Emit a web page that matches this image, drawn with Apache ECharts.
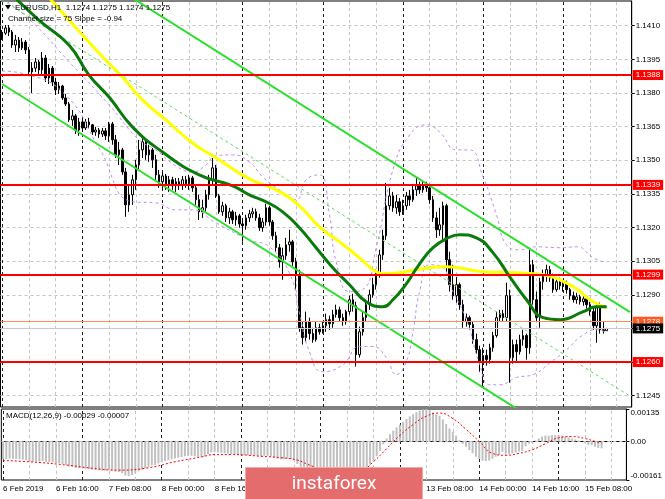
<!DOCTYPE html>
<html><head><meta charset="utf-8">
<script src="https://cdn.jsdelivr.net/npm/echarts@6/dist/echarts.min.js"></script>
<style>html,body{margin:0;padding:0;background:#fff}#c{width:665px;height:499px}</style>
</head><body><div id="c"></div>
<script>
// ---------- categories & tick labels ----------
const days = ['6 Feb','7 Feb','8 Feb','11 Feb','12 Feb','13 Feb','14 Feb','15 Feb'];
const TOTAL_SLOTS = 189; // 182 bars + right shift
const xTickLabels = ['6 Feb 2019','6 Feb 16:00','7 Feb 08:00','8 Feb 00:00','8 Feb 16:00','11 Feb 08:00','12 Feb 00:00','12 Feb 16:00','13 Feb 08:00','14 Feb 00:00','14 Feb 16:00','15 Feb 08:00'];
const priceTicks = [1.1245,1.1260,1.1275,1.1290,1.1305,1.1320,1.1335,1.1350,1.1365,1.1380,1.1395,1.1410];
const redLevels = [1.1388,1.1339,1.1299,1.1260];
const orangeLevel = 1.1278;
const lastPrice = 1.1275;
const macdTicks = [-0.00161,0,0.00135];

// ---------- OHLC (EURUSD H1) ----------
const opens = [
1.14045,1.14067,1.14090,1.14072,1.14014,1.14036,1.14001,1.14027,1.13992,1.13894,
1.13911,1.13938,1.13903,1.13956,1.13867,1.13911,1.13849,1.13814,1.13831,1.13778,
1.13751,1.13680,1.13698,1.13635,1.13671,1.13644,1.13671,1.13658,1.13626,1.13635,
1.13617,1.13631,1.13609,1.13662,1.13591,1.13524,1.13546,1.13448,1.13301,1.13346,
1.13413,1.13479,1.13546,1.13582,1.13524,1.13546,1.13502,1.13435,1.13404,1.13430,
1.13390,1.13413,1.13386,1.13404,1.13390,1.13413,1.13395,1.13421,1.13377,1.13324,
1.13270,1.13288,1.13346,1.13413,1.13466,1.13341,1.13270,1.13297,1.13243,1.13270,
1.13234,1.13252,1.13216,1.13208,1.13243,1.13261,1.13270,1.13243,1.13199,1.13225,
1.13288,1.13225,1.13163,1.13110,1.13047,1.13074,1.13123,1.13136,1.13047,1.12989,
1.12753,1.12709,1.12780,1.12727,1.12700,1.12753,1.12735,1.12762,1.12789,1.12771,
1.12811,1.12833,1.12798,1.12780,1.12825,1.12878,1.12851,1.12633,1.12735,1.12798,
1.12856,1.12900,1.12945,1.12994,1.13078,1.13163,1.13297,1.13341,1.13288,1.13315,
1.13270,1.13297,1.13341,1.13324,1.13368,1.13386,1.13368,1.13390,1.13377,1.13324,
1.13243,1.13190,1.13212,1.13297,1.13056,1.12945,1.12896,1.12945,1.12856,1.12780,
1.12798,1.12767,1.12700,1.12655,1.12602,1.12629,1.12611,1.12664,1.12718,1.12798,
1.12816,1.12798,1.12896,1.12620,1.12678,1.12646,1.12700,1.12718,1.12664,1.13034,
1.12878,1.12798,1.12958,1.12985,1.13012,1.12976,1.12923,1.12958,1.12940,1.12949,
1.12923,1.12896,1.12878,1.12891,1.12869,1.12882,1.12856,1.12825,1.12762,1.12842,
1.12744,1.12740];
const highs = [
1.14081,1.14103,1.14103,1.14081,1.14059,1.14050,1.14045,1.14036,1.14005,1.13938,
1.13956,1.13947,1.13983,1.13969,1.13929,1.13920,1.13867,1.13849,1.13836,1.13796,
1.13760,1.13724,1.13706,1.13689,1.13689,1.13684,1.13689,1.13662,1.13649,1.13644,
1.13644,1.13644,1.13671,1.13671,1.13613,1.13582,1.13555,1.13466,1.13390,1.13435,
1.13502,1.13591,1.13600,1.13591,1.13569,1.13555,1.13524,1.13457,1.13448,1.13439,
1.13430,1.13426,1.13421,1.13421,1.13430,1.13430,1.13435,1.13430,1.13390,1.13346,
1.13324,1.13368,1.13435,1.13510,1.13479,1.13350,1.13315,1.13306,1.13288,1.13279,
1.13270,1.13261,1.13243,1.13257,1.13279,1.13288,1.13284,1.13261,1.13243,1.13306,
1.13297,1.13234,1.13181,1.13127,1.13110,1.13154,1.13190,1.13145,1.13065,1.13012,
1.12780,1.12825,1.12798,1.12753,1.12780,1.12771,1.12780,1.12816,1.12807,1.12833,
1.12856,1.12847,1.12816,1.12833,1.12896,1.12905,1.12869,1.12758,1.12825,1.12878,
1.12923,1.12976,1.13012,1.13101,1.13190,1.13399,1.13377,1.13359,1.13346,1.13332,
1.13324,1.13359,1.13368,1.13386,1.13421,1.13404,1.13408,1.13404,1.13395,1.13341,
1.13270,1.13288,1.13315,1.13306,1.13092,1.13034,1.12980,1.12954,1.12878,1.12816,
1.12807,1.12780,1.12727,1.12673,1.12664,1.12655,1.12682,1.12735,1.12825,1.12833,
1.12833,1.12954,1.12923,1.12700,1.12700,1.12722,1.12744,1.12727,1.13101,1.13056,
1.12914,1.12976,1.13012,1.13034,1.13029,1.12994,1.12976,1.12976,1.12963,1.12963,
1.12931,1.12914,1.12909,1.12900,1.12896,1.12896,1.12869,1.12847,1.12856,1.12865,
1.12780,1.12750];
const lows = [
1.14036,1.14059,1.14054,1.14001,1.13983,1.13983,1.13992,1.13974,1.13880,1.13800,
1.13894,1.13885,1.13880,1.13849,1.13840,1.13831,1.13791,1.13796,1.13769,1.13742,
1.13671,1.13653,1.13617,1.13609,1.13626,1.13635,1.13644,1.13613,1.13609,1.13600,
1.13604,1.13591,1.13582,1.13569,1.13510,1.13479,1.13435,1.13248,1.13270,1.13301,
1.13368,1.13457,1.13510,1.13502,1.13493,1.13466,1.13413,1.13377,1.13368,1.13368,
1.13359,1.13368,1.13359,1.13368,1.13368,1.13377,1.13368,1.13359,1.13301,1.13234,
1.13243,1.13270,1.13324,1.13390,1.13332,1.13261,1.13252,1.13225,1.13216,1.13216,
1.13208,1.13199,1.13136,1.13190,1.13225,1.13243,1.13230,1.13185,1.13181,1.13208,
1.13208,1.13145,1.13092,1.13021,1.12967,1.13056,1.13092,1.13029,1.12923,1.12735,
1.12678,1.12691,1.12700,1.12686,1.12691,1.12722,1.12727,1.12735,1.12744,1.12753,
1.12798,1.12780,1.12762,1.12767,1.12811,1.12825,1.12580,1.12620,1.12718,1.12780,
1.12833,1.12887,1.12923,1.12976,1.13056,1.13145,1.13279,1.13270,1.13261,1.13252,
1.13257,1.13279,1.13297,1.13315,1.13341,1.13350,1.13355,1.13359,1.13306,1.13225,
1.13154,1.13163,1.13145,1.13003,1.12914,1.12878,1.12865,1.12833,1.12753,1.12758,
1.12744,1.12682,1.12637,1.12557,1.12490,1.12584,1.12593,1.12646,1.12709,1.12780,
1.12780,1.12780,1.12508,1.12593,1.12602,1.12633,1.12673,1.12611,1.12637,1.12856,
1.12780,1.12753,1.12923,1.12958,1.12958,1.12909,1.12914,1.12923,1.12914,1.12905,
1.12878,1.12865,1.12860,1.12856,1.12851,1.12838,1.12807,1.12744,1.12686,1.12727,
1.12727,1.12740];
const closes = [
1.14067,1.14090,1.14072,1.14014,1.14036,1.14001,1.14027,1.13992,1.13894,1.13911,
1.13938,1.13903,1.13956,1.13867,1.13911,1.13849,1.13814,1.13831,1.13778,1.13751,
1.13680,1.13698,1.13635,1.13671,1.13644,1.13671,1.13658,1.13626,1.13635,1.13617,
1.13631,1.13609,1.13662,1.13591,1.13524,1.13546,1.13448,1.13301,1.13346,1.13413,
1.13479,1.13546,1.13582,1.13524,1.13546,1.13502,1.13435,1.13404,1.13430,1.13390,
1.13413,1.13386,1.13404,1.13390,1.13413,1.13395,1.13421,1.13377,1.13324,1.13270,
1.13288,1.13346,1.13413,1.13466,1.13341,1.13270,1.13297,1.13243,1.13270,1.13234,
1.13252,1.13216,1.13208,1.13243,1.13261,1.13270,1.13243,1.13199,1.13225,1.13288,
1.13225,1.13163,1.13110,1.13047,1.13074,1.13123,1.13136,1.13047,1.12989,1.12753,
1.12709,1.12780,1.12727,1.12700,1.12753,1.12735,1.12762,1.12789,1.12771,1.12811,
1.12833,1.12798,1.12780,1.12825,1.12878,1.12851,1.12633,1.12735,1.12798,1.12856,
1.12900,1.12945,1.12994,1.13078,1.13163,1.13297,1.13341,1.13288,1.13315,1.13270,
1.13297,1.13341,1.13324,1.13368,1.13386,1.13368,1.13390,1.13377,1.13324,1.13243,
1.13190,1.13212,1.13297,1.13056,1.12945,1.12896,1.12945,1.12856,1.12780,1.12798,
1.12767,1.12700,1.12655,1.12602,1.12629,1.12611,1.12664,1.12718,1.12798,1.12816,
1.12798,1.12896,1.12620,1.12678,1.12646,1.12700,1.12718,1.12664,1.13034,1.12878,
1.12798,1.12958,1.12985,1.13012,1.12976,1.12923,1.12958,1.12940,1.12949,1.12923,
1.12896,1.12878,1.12891,1.12869,1.12882,1.12856,1.12825,1.12762,1.12842,1.12744,
1.12740,1.12750];

// ---------- indicators (bar index, value) ----------
const maGreenBars = [0,11,20,26,32,39,48,59,69,74,79,84,89,94,99,104,109,114,117,121,125,129,133,137,142,147,152,157,162,167,174,178,181];
const maGreenVals = [1.14281,1.14125,1.14014,1.13880,1.13782,1.13649,1.13537,1.13435,1.13386,1.13346,1.13315,1.13270,1.13199,1.13110,1.13021,1.12945,1.12869,1.12847,1.12878,1.12949,1.13038,1.13110,1.13150,1.13168,1.13154,1.13087,1.12980,1.12878,1.12798,1.12789,1.12825,1.12847,1.12847];
const maYellowBars = [0,20,29,36,42,49,57,64,74,82,89,95,101,107,111,114,119,124,133,144,154,162,167,172,176,181];
const maYellowVals = [1.14460,1.14125,1.13978,1.13871,1.13769,1.13680,1.13577,1.13511,1.13417,1.13368,1.13297,1.13203,1.13136,1.13065,1.13012,1.12994,1.12998,1.13012,1.13025,1.13003,1.12998,1.12989,1.12967,1.12927,1.12878,1.12842];
const bbUpperBars = [0,9,19,32,41,46,52,57,61,64,69,74,78,83,88,91,95,98,100,104,108,112,117,122,127,131,136,140,144,148,151,155,160,167,172,177,181];
const bbUpperVals = [1.14224,1.14116,1.13956,1.13747,1.13591,1.13546,1.13475,1.13448,1.13479,1.13520,1.13524,1.13493,1.13426,1.13368,1.13324,1.13413,1.13435,1.13257,1.13047,1.12914,1.12923,1.13110,1.13457,1.13613,1.13658,1.13626,1.13546,1.13546,1.13426,1.13257,1.13123,1.13101,1.13114,1.13110,1.13114,1.13065,1.13043];
const bbLowerBars = [0,7,19,29,39,46,52,57,64,74,80,86,89,92,96,102,107,111,115,118,121,123,125,128,132,134,139,143,146,149,154,159,164,169,174,178,181];
const bbLowerVals = [1.13898,1.13884,1.13791,1.13555,1.13315,1.13310,1.13279,1.13279,1.13221,1.13145,1.13114,1.12998,1.12820,1.12646,1.12557,1.12588,1.12669,1.12669,1.12620,1.12544,1.12602,1.12735,1.12914,1.13034,1.13021,1.12945,1.12789,1.12588,1.12499,1.12499,1.12531,1.12544,1.12597,1.12655,1.12722,1.12744,1.12731];
// regression channel (size 75 pips, slope -0.94 pips/bar): values at first and last slot
const channelBars = [0,188];
const channelUpper = [1.14590,1.12823];
const channelMiddle = [1.14215,1.12448];
const channelLower = [1.13840,1.12073];

// ---------- MACD(12,26,9) ----------
const macdMain = [
-0.00075,-0.00074,-0.00072,-0.00072,-0.00073,-0.00074,-0.00076,-0.00078,
-0.00082,-0.00085,-0.00084,-0.00084,-0.00082,-0.00085,-0.00086,-0.00088,-0.00090,-0.00091,
-0.00094,-0.00098,-0.00105,-0.00107,-0.00110,-0.00111,-0.00112,-0.00114,
-0.00116,-0.00118,-0.00119,-0.00121,-0.00122,-0.00122,-0.00120,-0.00122,-0.00126,-0.00128,-0.00132,
-0.00142,-0.00145,-0.00140,-0.00133,-0.00125,-0.00118,-0.00112,-0.00106,-0.00100,-0.00098,
-0.00092,-0.00087,-0.00082,-0.00078,-0.00074,-0.00071,-0.00068,-0.00065,-0.00062,-0.00060,-0.00060,-0.00062,-0.00066,-0.00066,-0.00062,
-0.00054,-0.00045,-0.00044,-0.00046,-0.00048,-0.00050,-0.00051,-0.00053,-0.00054,-0.00056,
-0.00058,-0.00058,-0.00058,-0.00058,-0.00059,-0.00061,-0.00062,-0.00060,-0.00060,-0.00063,-0.00067,-0.00072,-0.00075,-0.00074,-0.00072,-0.00074,-0.00080,
-0.00095,-0.00108,-0.00116,-0.00124,-0.00132,-0.00138,-0.00143,-0.00148,-0.00152,-0.00156,-0.00159,-0.00161,-0.00158,-0.00155,-0.00152,-0.00148,-0.00143,
-0.00146,-0.00140,-0.00132,-0.00122,-0.00110,-0.00096,-0.00080,-0.00062,-0.00040,-0.00012,
0.00012,0.00030,0.00045,0.00058,0.00070,0.00082,0.00093,0.00104,0.00114,0.00122,0.00128,0.00133,0.00135,
0.00130,0.00121,0.00112,0.00106,0.00092,0.00072,0.00054,0.00040,0.00024,0.00006,
-0.00010,-0.00022,-0.00036,-0.00050,-0.00064,-0.00073,-0.00080,-0.00082,-0.00080,-0.00072,-0.00064,-0.00056,-0.00044,
-0.00050,-0.00052,-0.00050,-0.00046,-0.00042,-0.00040,-0.00020,-0.00010,-0.00006,
0.00004,0.00012,0.00020,0.00024,0.00024,0.00026,0.00026,0.00026,0.00024,0.00020,0.00016,0.00012,0.00008,0.00004,0.00000,-0.00006,-0.00014,-0.00016,-0.00022,-0.00027,-0.00029];
const signalBars = [0,9,20,27,35,44,52,60,64,69,78,84,89,92,98,104,108,112,116,120,124,128,132,136,140,144,148,152,156,160,164,168,172,176,179,181];
const signalVals = [-0.00080,-0.00086,-0.00100,-0.00112,-0.00120,-0.00110,-0.00085,-0.00065,-0.00055,-0.00055,-0.00062,-0.00068,-0.00078,-0.00095,-0.00125,-0.00140,-0.00128,-0.00085,-0.00030,0.00025,0.00070,0.00105,0.00118,0.00095,0.00050,0.00000,-0.00050,-0.00058,-0.00050,-0.00035,-0.00010,0.00015,0.00020,0.00012,0.00000,-0.00007];

// ---------- build ----------
const FONT = '"Liberation Sans", Arial, sans-serif';
const categories = [];
days.forEach(d => { for (let h = 0; h < 24; h++) categories.push(d + ' ' + String(h).padStart(2, '0') + ':00'); });
categories.length = TOTAL_SLOTS;

const candleData = opens.map((o, i) => [o, closes[i], lows[i], highs[i]]);
const pairs = (b, v) => b.map((x, i) => [x, v[i]]);

const gridDash = {color: '#c4c4c4', type: [3, 3], width: 1};
const sepDash = {color: '#202020', type: [3, 3], width: 1};
const vLines = [];
for (let i = 0; i < TOTAL_SLOTS; i += 8) vLines.push({xAxis: i, lineStyle: i % 24 === 0 ? sepDash : gridDash});
const hLines = priceTicks.map(v => ({yAxis: v, lineStyle: gridDash}));

function levelLabel(bg) {
  return {show: true, position: 'end', distance: 1, color: '#fff', backgroundColor: bg,
    padding: [1, 3, 0, 3], lineHeight: 9, fontSize: 8, fontFamily: FONT, formatter: p => Number(p.value).toFixed(4)};
}
const levelLines = redLevels.map(v => ({yAxis: v, lineStyle: {color: '#ff0000', width: 2, type: 'solid'}, label: levelLabel('#ff0000')}));
levelLines.push({yAxis: orangeLevel, lineStyle: {color: '#ff8a5c', width: 1, type: 'solid'}, label: levelLabel('#ff5a1f')});
levelLines.push({yAxis: lastPrice, lineStyle: {color: '#c8c8c8', width: 1, type: 'solid'}, label: levelLabel('#000000')});

const GL = 0.5, GW = 631.2;
const option = {
  animation: false,
  backgroundColor: '#ffffff',
  grid: [
    {left: GL, top: 1, width: GW, height: 406, show: true, borderColor: '#000', borderWidth: 1, backgroundColor: 'transparent'},
    {left: GL, top: 409, width: GW, height: 71, show: true, borderColor: '#000', borderWidth: 1, backgroundColor: 'transparent'}
  ],
  xAxis: [
    {type: 'category', gridIndex: 0, data: categories, boundaryGap: true,
      axisLine: {show: false}, axisTick: {show: false}, axisLabel: {show: false}, splitLine: {show: false}},
    {type: 'category', gridIndex: 1, data: categories, boundaryGap: true,
      axisLine: {show: true, lineStyle: {color: '#000'}}, axisTick: {show: false},
      axisLabel: {show: true, interval: 15, align: 'left', margin: 5, color: '#000', fontSize: 8, fontFamily: FONT,
        formatter: (v, idx) => xTickLabels[Math.round(idx / 16)] || ''},
      splitLine: {show: false}}
  ],
  yAxis: [
    {type: 'value', gridIndex: 0, position: 'right', min: 1.123996, max: 1.142102,
      axisLine: {show: true, lineStyle: {color: '#000'}},
      axisTick: {show: true, length: 3, customValues: priceTicks, lineStyle: {color: '#000'}},
      axisLabel: {show: true, customValues: priceTicks, margin: 4, color: '#000', fontSize: 8, fontFamily: FONT, formatter: v => v.toFixed(4)},
      splitLine: {show: false}},
    {type: 'value', gridIndex: 1, position: 'right', min: -0.00161, max: 0.00135,
      axisLine: {show: true, lineStyle: {color: '#000'}},
      axisTick: {show: true, length: 3, customValues: macdTicks, lineStyle: {color: '#000'}},
      axisLabel: {show: true, customValues: macdTicks, margin: 4, color: '#000', fontSize: 8, fontFamily: FONT,
        verticalAlignMinLabel: 'bottom', verticalAlignMaxLabel: 'top',
        formatter: v => (Math.abs(v) < 1e-9 ? '0.00' : v.toFixed(5))},
      splitLine: {show: false}}
  ],
  series: [
    {type: 'line', name: 'grid0', xAxisIndex: 0, yAxisIndex: 0, data: [], z: 1,
      markLine: {z: 1, silent: true, precision: 6, symbol: ['none', 'none'], label: {show: false}, data: hLines.concat(vLines)}},
    {type: 'line', name: 'grid1', xAxisIndex: 1, yAxisIndex: 1, data: [], z: 1,
      markLine: {z: 1, silent: true, precision: 6, symbol: ['none', 'none'], label: {show: false},
        data: vLines.concat([{yAxis: 0, lineStyle: gridDash}])}},
    {type: 'candlestick', name: 'EURUSD', xAxisIndex: 0, yAxisIndex: 0, data: candleData, barWidth: 2, z: 3,
      itemStyle: {color: '#ffffff', color0: '#000000', borderColor: '#000000', borderColor0: '#000000', borderWidth: 1},
      markLine: {silent: true, precision: 6, symbol: ['none', 'none'], data: levelLines}},
    {type: 'line', name: 'BB up', xAxisIndex: 0, yAxisIndex: 0, data: pairs(bbUpperBars, bbUpperVals), smooth: true, showSymbol: false, z: 4,
      lineStyle: {color: '#c08cf0', width: 1, type: [3, 3]}},
    {type: 'line', name: 'BB low', xAxisIndex: 0, yAxisIndex: 0, data: pairs(bbLowerBars, bbLowerVals), smooth: true, showSymbol: false, z: 4,
      lineStyle: {color: '#c08cf0', width: 1, type: [3, 3]}},
    {type: 'line', name: 'ch mid', xAxisIndex: 0, yAxisIndex: 0, data: pairs(channelBars, channelMiddle), showSymbol: false, z: 4,
      lineStyle: {color: '#5fd85f', width: 1, type: [3, 3]}},
    {type: 'line', name: 'ch up', xAxisIndex: 0, yAxisIndex: 0, data: pairs(channelBars, channelUpper), showSymbol: false, z: 4,
      lineStyle: {color: '#2ee02e', width: 2}},
    {type: 'line', name: 'ch low', xAxisIndex: 0, yAxisIndex: 0, data: pairs(channelBars, channelLower), showSymbol: false, z: 4,
      lineStyle: {color: '#2ee02e', width: 2}},
    {type: 'line', name: 'MA yellow', xAxisIndex: 0, yAxisIndex: 0, data: pairs(maYellowBars, maYellowVals), smooth: true, showSymbol: false, z: 4,
      lineStyle: {color: '#ffff00', width: 3}},
    {type: 'line', name: 'MA green', xAxisIndex: 0, yAxisIndex: 0, data: pairs(maGreenBars, maGreenVals), smooth: true, showSymbol: false, z: 4,
      lineStyle: {color: '#0a7a0a', width: 3}},
    {type: 'bar', name: 'MACD', xAxisIndex: 1, yAxisIndex: 1, data: macdMain, barWidth: 2, z: 3,
      itemStyle: {color: '#c0c0c0'}},
    {type: 'line', name: 'Signal', xAxisIndex: 1, yAxisIndex: 1, data: pairs(signalBars, signalVals), smooth: true, showSymbol: false, z: 4,
      lineStyle: {color: '#ff0000', width: 1, type: [2, 2]}}
  ],
  graphic: [
    {type: 'polygon', shape: {points: [[5, 5], [11, 5], [8, 9.5]]}, style: {fill: '#000'}, z: 50},
    {type: 'text', x: 15, y: 8, style: {text: 'EURUSD,H1  1.1274 1.1275 1.1274 1.1275', fill: '#000', font: '8px ' + FONT, verticalAlign: 'middle'}, z: 50},
    {type: 'text', x: 8, y: 18.5, style: {text: 'Channel size = 75 Slope = -0.94', fill: '#000', font: '8px ' + FONT, verticalAlign: 'middle'}, z: 50},
    {type: 'text', x: 6, y: 416, style: {text: 'MACD(12,26,9) -0.00029 -0.00007', fill: '#000', font: '8px ' + FONT, verticalAlign: 'middle'}, z: 50},
    {type: 'rect', shape: {x: 245.5, y: 467.5, width: 177, height: 40}, style: {fill: '#e46c6c', stroke: '#f0aaaa', lineWidth: 1}, z: 100},
    {type: 'text', x: 334, y: 484, style: {text: 'instaforex', fill: '#ffffff', font: '19px Roboto, "Open Sans", sans-serif', align: 'center', verticalAlign: 'middle'}, z: 101}
  ]
};
const chart = echarts.init(document.getElementById('c'));
chart.setOption(option);
</script>
</body></html>
